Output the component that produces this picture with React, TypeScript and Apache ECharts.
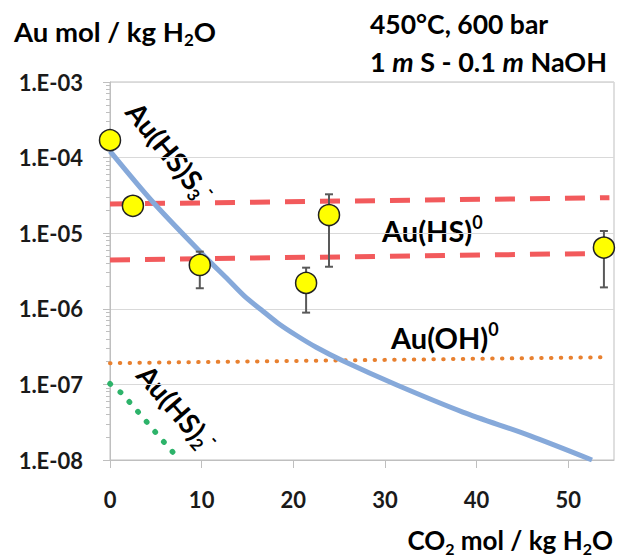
import React, { useEffect, useRef } from 'react';
import * as echarts from 'echarts';

// Axis structure
const xTickValues = [0, 10, 20, 30, 40, 50];
const xMin = 0;
const xMax = 55;
const yMin = 1e-8;
const yMax = 1e-3;

// Measured gold solubility (yellow points) with error bars
const measuredX = [0, 2.5, 9.8, 21.4, 23.9, 53.9];
const measuredY = [1.7e-4, 2.3e-5, 3.8e-6, 2.2e-6, 1.74e-5, 6.45e-6];
const errLow = [null, null, 1.87e-6, 8.9e-7, 3.6e-6, 1.92e-6];
const errHigh = [null, null, 5.7e-6, 3.5e-6, 3.27e-5, 1.07e-5];

// Au(HS)S3- model curve
const auHSS3X = [0, 4.8, 10.5, 12.9, 14.7, 16.5, 18.3, 20.4, 22.5, 25.4, 31.3, 38.5, 45.8, 52.6];
const auHSS3Y = [1.22e-4, 2.49e-5, 4.7e-6, 2.42e-6, 1.46e-6, 9.7e-7, 6.5e-7, 4.4e-7, 3.1e-7, 2.05e-7, 9.8e-8, 4.3e-8, 2.1e-8, 1.0e-8];

// Au(HS)0 model band (two dashed lines)
const auHS0X = [0, 54.5];
const auHS0UpperY = [2.43e-5, 2.95e-5];
const auHS0LowerY = [4.43e-6, 5.42e-6];

// Au(OH)0 model line
const auOHX = [0, 54.5];
const auOHY = [1.91e-7, 2.29e-7];

// Au(HS)2- model line
const auHS2X = [0, 1.3, 3.2, 5, 6.9, 7.9];
const auHS2Y = [1.02e-7, 7.6e-8, 4.15e-8, 2.3e-8, 1.25e-8, 1.0e-8];

const FONT = 'Lato';
const pairs = (xs: number[], ys: number[]) => xs.map((x, i) => [x, ys[i]]);

function minorTickValues(): number[] {
  const out: number[] = [];
  for (let e = -8; e < -3; e++) {
    for (let m = 2; m <= 9; m++) out.push(m * Math.pow(10, e));
  }
  return out;
}

function fmtExp(v: number): string {
  const e = Math.round(Math.log10(v));
  const s = e < 0 ? '-' : '+';
  return `1.E${s}${String(Math.abs(e)).padStart(2, '0')}`;
}

export default function App() {
  const ref = useRef<HTMLDivElement>(null);
  useEffect(() => {
    if (!ref.current) return;
    const chart = echarts.init(ref.current, null, { renderer: 'svg' });
    const rich = (size: number) => ({
      n: { fontFamily: FONT, fontWeight: 'bold', fontSize: size, color: '#000', lineHeight: size + 6 },
      i: { fontFamily: FONT, fontWeight: 'bold', fontStyle: 'italic', fontSize: size, color: '#000', lineHeight: size + 6 },
      s: { fontFamily: FONT, fontWeight: 'bold', fontSize: Math.round(size * 0.62), color: '#000', verticalAlign: 'bottom', lineHeight: Math.round(size * 0.62) },
      p: { fontFamily: FONT, fontWeight: 'bold', fontSize: Math.round(size * 0.62), color: '#000', verticalAlign: 'top', lineHeight: Math.round(size * 0.62) },
    });
    const errData = measuredX
      .map((x, i) => (errLow[i] != null ? [x, errLow[i], errHigh[i]] : null))
      .filter((d) => d != null);

    chart.setOption({
      animation: false,
      backgroundColor: '#fff',
      grid: { left: 110, top: 82, right: 13, bottom: 99, show: true, borderColor: '#BFBFBF', borderWidth: 1 },
      xAxis: {
        type: 'value',
        min: xMin,
        max: xMax,
        interval: 10,
        axisLine: { show: true, lineStyle: { color: '#BFBFBF', width: 1 } },
        axisTick: { show: true, length: 8, customValues: xTickValues, lineStyle: { color: '#BFBFBF' } },
        axisLabel: {
          customValues: xTickValues,
          margin: 28,
          fontFamily: FONT,
          fontWeight: 'bold',
          fontSize: 22,
          color: '#1a1a1a',
        },
        splitLine: { show: false },
      },
      yAxis: [
        {
          type: 'log',
          logBase: 10,
          min: yMin,
          max: yMax,
          splitNumber: 5,
          axisLine: { show: true, lineStyle: { color: '#BFBFBF', width: 1 } },
          axisTick: { show: true, length: 7, lineStyle: { color: '#BFBFBF' } },
          axisLabel: {
            margin: 27,
            fontFamily: FONT,
            fontWeight: 'bold',
            fontSize: 22,
            color: '#1a1a1a',
            formatter: (v: number) => fmtExp(v),
          },
          splitLine: { show: true, lineStyle: { color: '#D9D9D9', width: 1 } },
        },
        {
          type: 'log',
          logBase: 10,
          min: yMin,
          max: yMax,
          position: 'left',
          axisLine: { show: false },
          axisTick: { show: true, length: 4, customValues: minorTickValues(), lineStyle: { color: '#BFBFBF' } },
          axisLabel: { show: false },
          splitLine: { show: false },
        },
      ],
      series: [
        {
          name: 'Au(HS)0 upper',
          type: 'line',
          data: pairs(auHS0X, auHS0UpperY),
          symbol: 'none',
          lineStyle: { color: '#F25A5C', width: 5, type: [20, 15] },
          z: 2,
        },
        {
          name: 'Au(HS)0 lower',
          type: 'line',
          data: pairs(auHS0X, auHS0LowerY),
          symbol: 'none',
          lineStyle: { color: '#F25A5C', width: 5, type: [20, 15] },
          z: 2,
        },
        {
          name: 'Au(OH)0',
          type: 'line',
          data: pairs(auOHX, auOHY),
          symbol: 'none',
          lineStyle: { color: '#E8802F', width: 4, type: [0.5, 9.3], cap: 'round' },
          z: 2,
        },
        {
          name: 'Au(HS)2-',
          type: 'line',
          data: pairs(auHS2X, auHS2Y),
          symbol: 'none',
          lineStyle: { color: '#2DB36A', width: 5.5, type: [0.5, 12.7], cap: 'round' },
          z: 2,
        },
        {
          name: 'Au(HS)S3-',
          type: 'line',
          data: pairs(auHSS3X, auHSS3Y),
          symbol: 'none',
          smooth: 0.3,
          lineStyle: { color: '#86A9DA', width: 5 },
          z: 3,
        },
        {
          name: 'errors',
          type: 'custom',
          data: errData,
          encode: { x: 0, y: [1, 2] },
          z: 4,
          renderItem: (params: any, api: any) => {
            const x = api.value(0);
            const lo = api.coord([x, api.value(1)]);
            const hi = api.coord([x, api.value(2)]);
            const w = 4;
            const st = { stroke: '#595959', lineWidth: 2 };
            return {
              type: 'group',
              children: [
                { type: 'line', shape: { x1: lo[0], y1: lo[1], x2: hi[0], y2: hi[1] }, style: st },
                { type: 'line', shape: { x1: hi[0] - w, y1: hi[1], x2: hi[0] + w, y2: hi[1] }, style: st },
                { type: 'line', shape: { x1: lo[0] - w, y1: lo[1], x2: lo[0] + w, y2: lo[1] }, style: st },
              ],
            };
          },
        },
        {
          name: 'measured',
          type: 'scatter',
          data: pairs(measuredX, measuredY),
          symbol: 'circle',
          symbolSize: 21,
          itemStyle: { color: '#FFFF00', borderColor: '#222', borderWidth: 1.5, opacity: 1 },
          z: 5,
        },
      ],
      graphic: [
        {
          type: 'text',
          x: 14,
          y: 31,
          style: { text: '{n|Au mol / kg H}{s|2}{n|O}', rich: rich(27.5), verticalAlign: 'middle', align: 'left' },
        },
        {
          type: 'text',
          x: 370,
          y: 24,
          style: { text: '{n|450°C, 600 bar}', rich: rich(26.5), verticalAlign: 'middle', align: 'left' },
        },
        {
          type: 'text',
          x: 370,
          y: 61,
          style: { text: '{n|1 }{i|m}{n| S - 0.1 }{i|m}{n| NaOH}', rich: rich(27), verticalAlign: 'middle', align: 'left' },
        },
        {
          type: 'text',
          x: 382,
          y: 230,
          style: { text: '{n|Au(HS)}{p|0}', rich: rich(29), verticalAlign: 'middle', align: 'left' },
        },
        {
          type: 'text',
          x: 391,
          y: 337,
          style: { text: '{n|Au(OH)}{p|0}', rich: rich(29), verticalAlign: 'middle', align: 'left' },
        },
        {
          type: 'text',
          x: 170,
          y: 152,
          rotation: (-51 * Math.PI) / 180,
          style: { text: '{n|Au(HS)S}{s|3}{p|-}', rich: rich(28), verticalAlign: 'middle', align: 'center' },
        },
        {
          type: 'text',
          x: 177,
          y: 408,
          rotation: (-49 * Math.PI) / 180,
          style: { text: '{n|Au(HS)}{s|2}{p|-}', rich: rich(28), verticalAlign: 'middle', align: 'center' },
        },
        {
          type: 'text',
          x: 613,
          y: 540,
          style: { text: '{n|CO}{s|2}{n| mol / kg H}{s|2}{n|O}', rich: rich(26), verticalAlign: 'middle', align: 'right' },
        },
      ],
    });
    return () => chart.dispose();
  }, []);
  return <div ref={ref} style={{ position: 'fixed', left: 0, top: 0, width: 627, height: 559, background: '#fff' }} />;
}
